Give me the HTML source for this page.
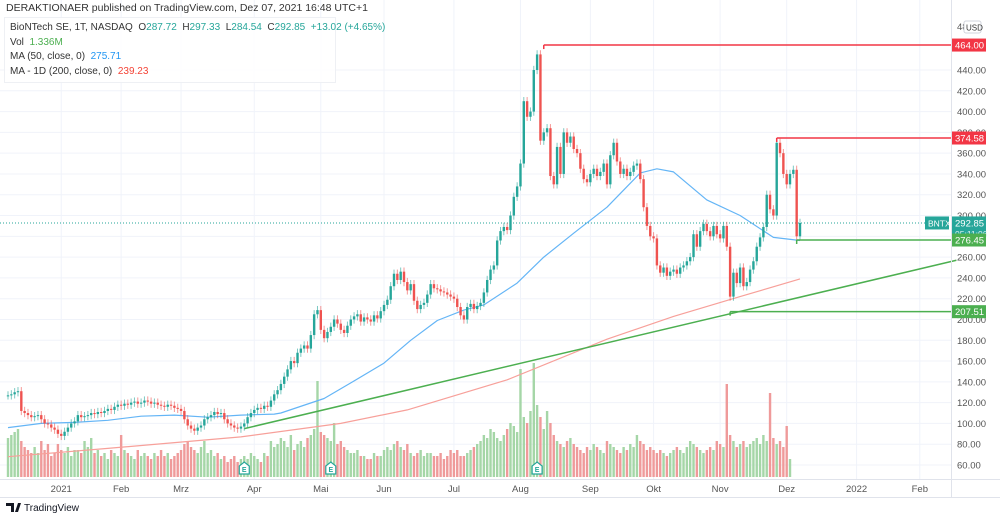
<!DOCTYPE html>
<html><head><meta charset="utf-8">
<style>
body{margin:0;background:#fff;font-family:"Liberation Sans",sans-serif;}
#wrap{position:relative;width:1000px;height:519px;overflow:hidden;background:#fff}
svg{position:absolute;left:0;top:0}
.hdr{position:absolute;left:6px;top:2px;font-size:10.5px;color:#333}
.leg{position:absolute;left:4px;top:17px;padding:3px 5px;font-size:10px;color:#333;line-height:14.5px;background:rgba(255,255,255,0.85);border:1px solid #eef0f4;width:320px;white-space:nowrap}
.leg span.t{color:#26a69a}
</style></head><body>
<div id="wrap">
<svg id="chart" width="1000" height="519"></svg>
<div class="hdr">DERAKTIONAER published on TradingView.com, Dez 07, 2021 16:48 UTC+1</div>
<div class="leg">
<div>BioNTech SE, 1T, NASDAQ&nbsp; O<span class="t">287.72</span>&nbsp; H<span class="t">297.33</span>&nbsp; L<span class="t">284.54</span>&nbsp; C<span class="t">292.85</span>&nbsp; <span class="t">+13.02 (+4.65%)</span></div>
<div>Vol&nbsp; <span style="color:#4caf50">1.336M</span></div>
<div>MA (50, close, 0)&nbsp; <span style="color:#2196f3">275.71</span></div>
<div>MA - 1D (200, close, 0)&nbsp; <span style="color:#f44336">239.23</span></div>
</div>
</div>
<script>
const closes=[127,128,130,131,112,110,108,106,107,108,104,100,99,96,94,90,88,92,96,100,102,108,106,107,108,110,109,111,110,112,114,113,116,118,117,119,118,120,121,119,120,122,121,119,120,118,117,116,118,117,115,114,112,104,98,95,93,96,98,104,106,108,111,109,110,104,100,98,96,95,97,100,106,110,113,115,114,117,116,122,128,132,138,145,152,160,158,168,172,175,172,185,205,209,190,182,188,193,200,196,190,187,194,200,203,205,198,202,200,198,204,201,208,214,219,232,244,238,246,236,228,234,218,210,214,216,224,234,230,229,227,226,224,222,220,212,204,200,212,215,210,213,216,226,238,248,252,276,285,289,286,300,318,328,350,410,395,400,440,455,372,380,384,338,330,366,340,380,370,376,364,360,345,335,332,340,345,338,342,350,330,358,370,352,340,345,338,342,348,350,335,308,290,280,278,252,245,250,242,246,248,244,250,252,256,260,282,270,285,292,285,280,290,282,278,290,270,222,245,235,250,232,236,248,256,270,279,289,320,306,300,370,360,340,330,340,344,280,292.85];
const volumes=[13,14,15,16,12,10,9,8,10,8,12,9,11,7,8,11,9,8,10,7,9,9,8,12,10,13,8,9,7,8,6,9,8,7,14,9,8,7,6,9,7,8,7,6,8,7,9,7,8,6,7,8,9,11,12,10,9,8,10,12,8,9,7,8,6,7,5,6,7,5,6,7,6,8,7,6,5,8,7,12,10,11,13,12,10,14,9,11,12,10,13,14,16,32,15,14,13,12,18,11,12,10,9,8,8,9,7,7,6,6,8,7,7,9,10,9,11,12,10,9,11,8,7,8,9,7,8,8,7,7,8,6,7,9,8,9,7,7,8,9,10,11,12,14,13,16,15,13,12,14,16,18,17,15,36,20,18,22,38,24,20,16,22,18,14,12,11,10,12,13,11,10,9,8,10,9,11,10,9,8,12,11,10,9,8,10,9,11,10,14,12,11,9,10,9,8,9,8,7,8,9,10,9,8,10,12,11,10,9,8,9,10,9,12,11,10,31,14,12,10,11,12,10,11,12,13,11,14,12,28,13,11,12,10,17,6];
const ma50Idx=[0,10,20,30,40,50,60,70,80,82,95,103,113,121,129,137,143,153,161,170,180,190,195,200,210,220,230,238];
const ma50Val=[96,100,101,103,107,108,106,108,109,110,124,139,158,180,199,209,214,235,260,283,308,341,345,342,315,300,279,276];
const ma200Idx=[0,30,70,100,120,150,180,200,220,238];
const ma200Val=[68,76,87,100,113,142,181,203,222,239];
const priceTicks=[60,80,100,120,140,160,180,200,220,240,260,280,300,320,340,360,380,400,420,440];
const monthLabels=["2021","Feb","Mrz","Apr","Mai","Jun","Jul","Aug","Sep","Okt","Nov","Dez","2022","Feb"];
const monthBarIdx=[16,34,52,74,94,113,134,154,175,194,214,234,255,274];
const levels=[{v:464.00,from:161,c:"#f23645"},{v:374.58,from:231,c:"#f23645"},{v:276.45,from:237,c:"#4caf50"},{v:207.51,from:217,c:"#4caf50"}];
const trend1=[{i:71,v:95},{i:285,v:257}];

const svg=document.getElementById('chart');
const NS='http://www.w3.org/2000/svg';
const PR=951, PB=479;
const N=closes.length;
const step=(800-8)/(N-1);
const X=i=>8+i*step;
const Y=v=>70+(440-v)*1.0395;
function mk(tag,attrs,parent){const e=document.createElementNS(NS,tag);for(const k in attrs)e.setAttribute(k,attrs[k]);(parent||svg).appendChild(e);return e;}
const grid=mk('g',{});


priceTicks.forEach(v=>{mk('line',{x1:0,x2:PR,y1:Y(v),y2:Y(v),stroke:'#f0f3fa','stroke-width':1},grid);});
monthBarIdx.forEach(i=>{mk('line',{x1:X(i),x2:X(i),y1:0,y2:PB,stroke:'#f0f3fa','stroke-width':1},grid);});
const vg=mk('g',{});


closes.forEach((c,i)=>{const o=i?closes[i-1]:c;const h=volumes[i]*3;
 const r=mk('rect',{x:X(i)-1.2,y:477-h,width:2.4,height:h,fill:c>=o?'#a5d6a7':'#ef9a9a'},vg);
 
 });
function maPath(idx,val){return idx.map((i,k)=>(k?'L':'M')+X(i).toFixed(1)+' '+Y(val[k]).toFixed(1)).join(' ');}
const m2=mk('path',{d:maPath(ma200Idx,ma200Val),stroke:'#f7a09a',fill:'none','stroke-width':1.2});


const m1=mk('path',{d:maPath(ma50Idx,ma50Val),stroke:'#64b5f6',fill:'none','stroke-width':1.2,'stroke-linejoin':'round'});


const tl=mk('line',{x1:X(trend1[0].i),y1:Y(trend1[0].v),x2:X(trend1[1].i),y2:Y(trend1[1].v),stroke:'#4caf50','stroke-width':1.5});


const cp=closes[N-1];
const pl=mk('line',{x1:0,x2:PR,y1:Y(cp),y2:Y(cp),stroke:'#26a69a','stroke-width':1,'stroke-dasharray':'1 2'});


const cg=mk('g',{});


closes.forEach((c,i)=>{const o=i?closes[i-1]:c;const col=c>=o?'#26a69a':'#ef5350';
 const hi=Math.max(o,c)+4, lo=Math.min(o,c)-4;
 mk('line',{x1:X(i),x2:X(i),y1:Y(hi),y2:Y(lo),stroke:col,'stroke-width':1,opacity:0.6},cg);
 const top=Y(Math.max(o,c)), bh=Math.max(1,Y(Math.min(o,c))-top);
 const r=mk('rect',{x:X(i)-1.2,y:top,width:2.4,height:bh,fill:col},cg);
 
 });
levels.forEach(l=>{const g=mk('g',{});
 
 
 mk('line',{x1:X(l.from),x2:PR,y1:Y(l.v),y2:Y(l.v),stroke:l.c,'stroke-width':1.5},g);
 mk('line',{x1:X(l.from),x2:X(l.from),y1:Y(l.v),y2:Y(l.v)+4,stroke:l.c,'stroke-width':1.5},g);});
[71,97,159].forEach(i=>{const g=mk('g',{});
 
 
 const x=X(i);mk('path',{d:`M${x-5} 474 L${x-5} 466 L${x} 462 L${x+5} 466 L${x+5} 474 Z`,fill:'#fff',stroke:'#26a69a','stroke-width':1.2},g);
 const t=mk('text',{x:x,y:472,'font-size':7,'text-anchor':'middle',fill:'#26a69a','font-weight':'bold'},g);t.textContent='E';});
mk('line',{x1:PR+0.5,x2:PR+0.5,y1:0,y2:497,stroke:'#e0e3eb'});
mk('line',{x1:0,x2:1000,y1:PB+0.5,y2:PB+0.5,stroke:'#e0e3eb'});
mk('line',{x1:0,x2:1000,y1:497.5,y2:497.5,stroke:'#e0e3eb'});
priceTicks.forEach(v=>{const t=mk('text',{x:957,y:Y(v)+3.5,'font-size':9.5,fill:'#555'});t.textContent=v.toFixed(2);
 
 });
const t48=mk('text',{x:957,y:30,'font-size':9.5,fill:'#555'});t48.textContent='48';
const usd=mk('rect',{x:964,y:21,width:17,height:12,fill:'#fff',stroke:'#d1d4dc',rx:2});
const ut=mk('text',{x:966,y:30.5,'font-size':8,fill:'#333'});ut.textContent='USD';


monthLabels.forEach((m,k)=>{const t=mk('text',{x:X(monthBarIdx[k]),y:492,'font-size':9.5,fill:'#555','text-anchor':'middle'});t.textContent=m;
 
 });
function badge(v,txt,col,h){const g=mk('g',{});
 
 
 mk('rect',{x:952,y:Y(v)-6.5,width:34,height:h||13,fill:col},g);
 const t=mk('text',{x:955,y:Y(v)+3.5,'font-size':9.5,fill:'#fff'},g);t.textContent=txt;return g;}
badge(464,'464.00','#f23645');badge(374.58,'374.58','#f23645');
const bg=badge(cp,'292.85','#26a69a',23);
const tt=mk('text',{x:955,y:Y(cp)+14,'font-size':8.5,fill:'#e0f2f1'},bg);tt.textContent='05:11:06';
badge(276.45,'276.45','#4caf50');badge(207.51,'207.51','#4caf50');
const tk=mk('g',{});


mk('rect',{x:925,y:Y(cp)-6.5,width:24,height:13,fill:'#26a69a'},tk);
const tkt=mk('text',{x:928,y:Y(cp)+3.5,'font-size':8.5,fill:'#fff'},tk);tkt.textContent='BNTX';
const fg=mk('g',{});


mk('path',{d:'M6 503 h8 v9 h-3 v-6 h-5 z M15 512 l3 -9 h3 l-3 9 z',fill:'#131722'},fg);
const ft=mk('text',{x:24,y:511,'font-size':10,fill:'#131722'},fg);ft.textContent='TradingView';
</script>
</body></html>
